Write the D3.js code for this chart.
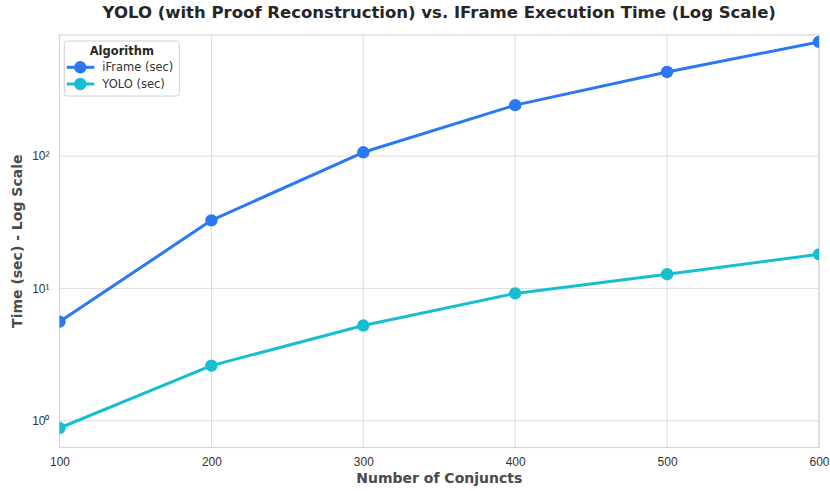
<!DOCTYPE html>
<html>
<head>
<meta charset="utf-8">
<script src="https://cdn.jsdelivr.net/npm/d3@7"></script>
<style>
  html, body { margin: 0; padding: 0; background: #fff; }
  svg { display: block; font-family: "DejaVu Sans", sans-serif; }
</style>
</head>
<body>
<svg id="chart" width="830" height="491"></svg>
<script>
// Execution time by number of conjuncts
const conjuncts = [100, 200, 300, 400, 500, 600];
const iframeSec = [5.6, 32.7, 107, 243, 433, 731];
const yoloSec = [0.88, 2.61, 5.24, 9.17, 12.8, 18.1];
const seriesNames = ["iFrame (sec)", "YOLO (sec)"];
const seriesColors = ["#2a78f2", "#17becf"];
const xTicks = [100, 200, 300, 400, 500, 600];
const yTicks = [1, 10, 100];

const svg = d3.select("#chart");
const margin = { left: 59.5, right: 11, top: 35, bottom: 43.5 };
const W = 830, H = 491;
const iw = W - margin.left - margin.right;
const ih = H - margin.top - margin.bottom;

const x = d3.scaleLinear().domain([100, 600]).range([0, iw]);
const y = d3.scaleLog().domain([0.627, 824]).range([ih, 0]);

const g = svg.append("g").attr("transform", `translate(${margin.left},${margin.top})`);

svg.append("defs").append("clipPath").attr("id", "plotClip")
  .append("rect").attr("width", iw).attr("height", ih);

// grid
g.append("g").selectAll("line.vx").data(xTicks).join("line")
  .attr("x1", d => x(d)).attr("x2", d => x(d))
  .attr("y1", 0).attr("y2", ih)
  .attr("stroke", "#dcdcdc").attr("stroke-width", 1);
g.append("g").selectAll("line.hy").data(yTicks).join("line")
  .attr("x1", 0).attr("x2", iw)
  .attr("y1", d => y(d)).attr("y2", d => y(d))
  .attr("stroke", "#dcdcdc").attr("stroke-width", 1);

// frame
g.append("rect").attr("width", iw).attr("height", ih)
  .attr("fill", "none").attr("stroke", "#d6d6d6").attr("stroke-width", 1.2);

// axes
const xAxis = d3.axisBottom(x).tickValues(xTicks).tickSize(0).tickPadding(10).tickFormat(d3.format("d"));
const xg = g.append("g").attr("transform", `translate(0,${ih})`).call(xAxis);
xg.select(".domain").remove();
xg.selectAll("text").attr("font-size", 12).attr("fill", "#333");

const supers = { "0": "⁰", "1": "¹", "2": "²" };
const yAxis = d3.axisLeft(y).tickValues(yTicks).tickSize(0).tickPadding(10)
  .tickFormat(d => "10" + supers[String(Math.round(Math.log10(d)))]);
const yg = g.append("g").call(yAxis);
yg.select(".domain").remove();
yg.selectAll("text").attr("font-size", 12).attr("fill", "#333");

// series
const series = [iframeSec, yoloSec];
const plot = g.append("g").attr("clip-path", "url(#plotClip)");
const line = d3.line().x((d, i) => x(conjuncts[i])).y(d => y(d));
series.forEach((vals, s) => {
  plot.append("path").datum(vals)
    .attr("d", line)
    .attr("fill", "none")
    .attr("stroke", seriesColors[s])
    .attr("stroke-width", 3)
    .attr("stroke-linejoin", "round");
  plot.selectAll(null).data(vals).join("circle")
    .attr("cx", (d, i) => x(conjuncts[i]))
    .attr("cy", d => y(d))
    .attr("r", 6.2)
    .attr("fill", seriesColors[s]);
});

// title and axis labels
svg.append("text").attr("x", margin.left + iw / 2).attr("y", 18)
  .attr("text-anchor", "middle").attr("font-size", 16.5).attr("font-weight", "bold")
  .attr("fill", "#262626")
  .text("YOLO (with Proof Reconstruction) vs. IFrame Execution Time (Log Scale)");

svg.append("text").attr("x", margin.left + iw / 2).attr("y", 482.5)
  .attr("text-anchor", "middle").attr("font-size", 14).attr("font-weight", "bold")
  .attr("fill", "#4a4a4a").text("Number of Conjuncts");

svg.append("text")
  .attr("transform", `translate(22,${margin.top + ih / 2}) rotate(-90)`)
  .attr("text-anchor", "middle").attr("font-size", 14).attr("font-weight", "bold")
  .attr("fill", "#4a4a4a").text("Time (sec) - Log Scale");

// legend
const lg = svg.append("g").attr("transform", "translate(64.3,41)");
lg.append("rect").attr("width", 115).attr("height", 55).attr("rx", 2.5)
  .attr("fill", "#fff").attr("fill-opacity", 0.85)
  .attr("stroke", "#d0d0d0").attr("stroke-width", 1);
lg.append("text").attr("x", 57.5).attr("y", 14).attr("text-anchor", "middle")
  .attr("font-size", 11.5).attr("font-weight", "bold").attr("fill", "#262626").text("Algorithm");
seriesNames.forEach((name, i) => {
  const yy = 26.3 + i * 16.7;
  lg.append("line").attr("x1", 2.5).attr("x2", 30).attr("y1", yy).attr("y2", yy)
    .attr("stroke", seriesColors[i]).attr("stroke-width", 3);
  lg.append("circle").attr("cx", 16).attr("cy", yy).attr("r", 6.2).attr("fill", seriesColors[i]);
  lg.append("text").attr("x", 38).attr("y", yy + 4).attr("font-size", 11.5)
    .attr("fill", "#333").text(name);
});
</script>
</body>
</html>
